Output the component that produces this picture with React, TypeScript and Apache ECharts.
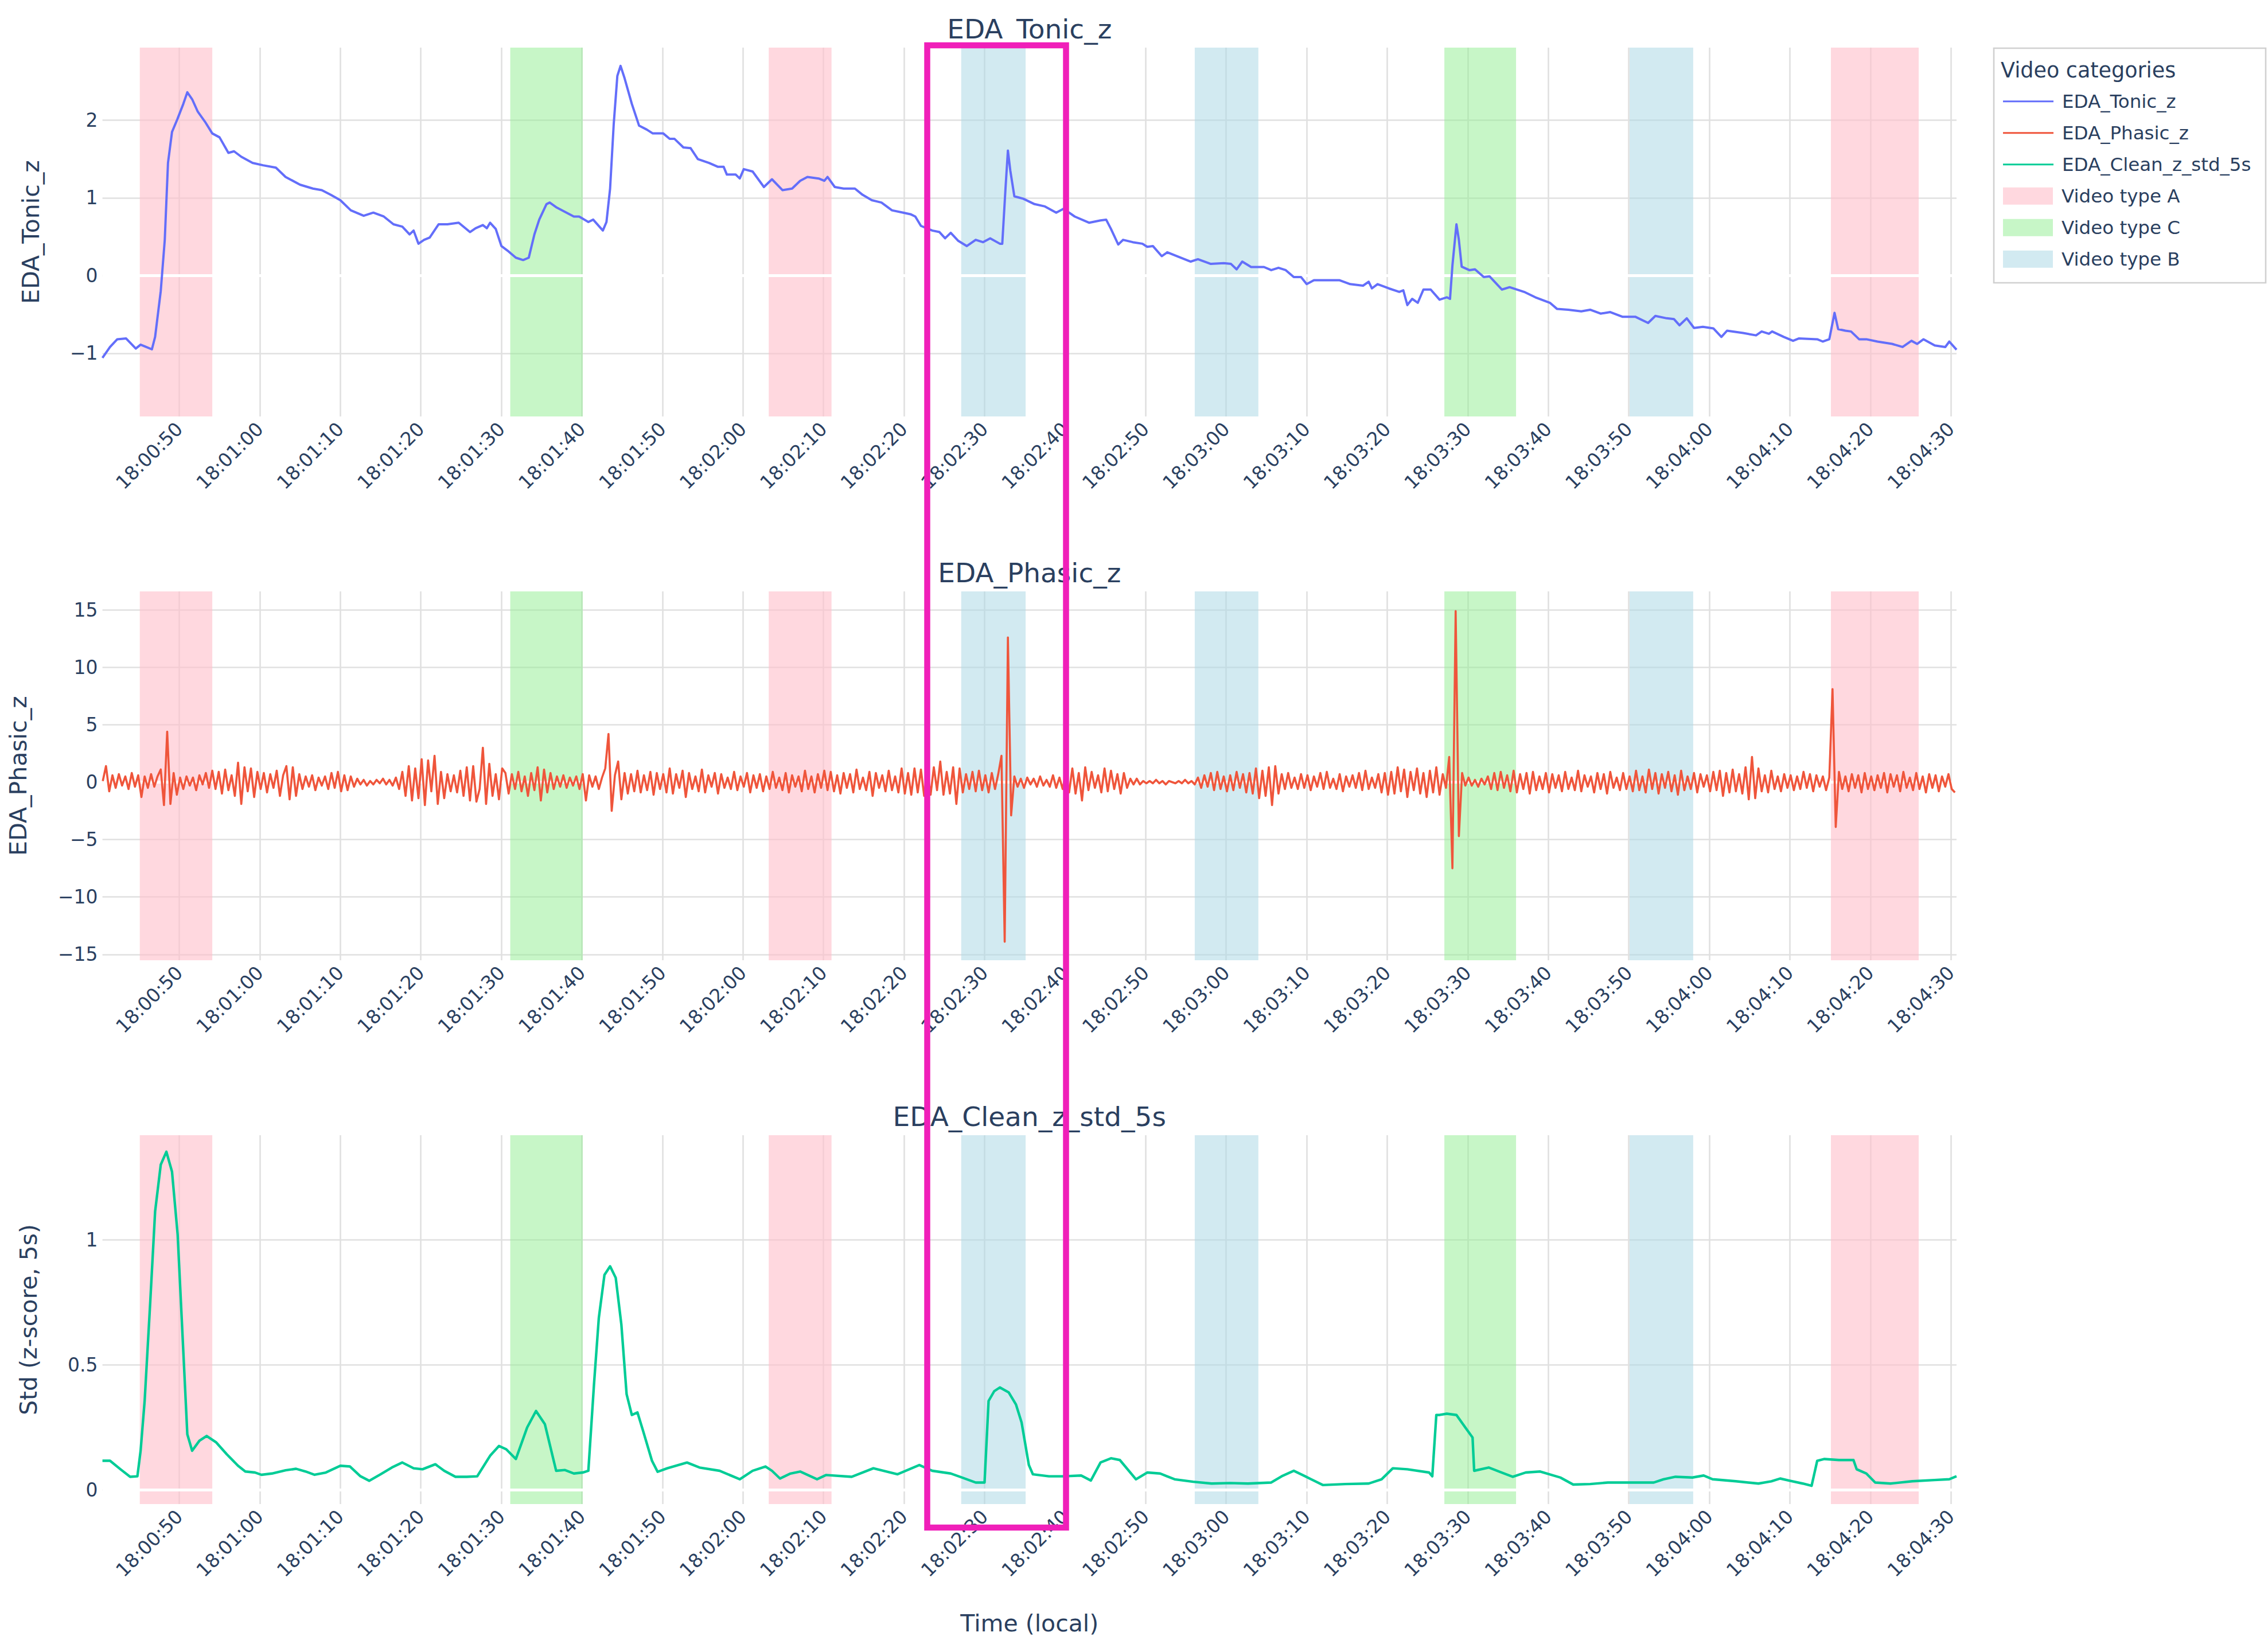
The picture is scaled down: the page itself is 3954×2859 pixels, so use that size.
import React, { useEffect, useRef } from 'react';
import * as echarts from 'echarts';

// ---------- data (seconds after 18:00:00) ----------
const X_MIN = 40.46;
const X_MAX = 270.7;

const TONIC_Z: [number, number][] = [
  [40.46,-1.06],[41.4,-0.92],[42.3,-0.82],[43.4,-0.81],[44.6,-0.94],[45.2,-0.89],[45.9,-0.92],[46.6,-0.95],[47.0,-0.79],[47.7,-0.20],
  [48.2,0.46],[48.6,1.45],[49.1,1.85],[49.75,2.01],[50.5,2.21],[51.0,2.36],[51.6,2.27],[52.3,2.11],[53.2,1.98],[54.1,1.83],
  [55.0,1.78],[56.1,1.58],[56.8,1.60],[57.7,1.53],[59.1,1.45],[60.4,1.42],[62.0,1.39],[63.2,1.27],[65.0,1.17],[66.6,1.12],
  [67.7,1.10],[68.8,1.04],[70.0,0.97],[71.3,0.84],[72.9,0.77],[74.1,0.81],[75.4,0.76],[76.6,0.66],[77.7,0.63],[78.6,0.53],
  [79.1,0.58],[79.7,0.41],[80.4,0.46],[81.1,0.49],[82.2,0.66],[83.3,0.66],[84.7,0.68],[86.1,0.56],[86.8,0.61],[87.7,0.65],
  [88.2,0.61],[88.6,0.68],[89.3,0.60],[90.0,0.38],[90.9,0.31],[91.8,0.23],[92.7,0.20],[93.4,0.23],[94.1,0.53],[94.7,0.72],
  [95.6,0.92],[96.0,0.94],[96.8,0.88],[99.0,0.76],[99.65,0.76],[100.8,0.69],[101.4,0.72],[102.6,0.58],[103.05,0.69],[103.5,1.12],
  [103.95,1.95],[104.4,2.57],[104.8,2.70],[105.3,2.54],[106.2,2.21],[107.1,1.93],[108.05,1.88],[108.8,1.83],[110.1,1.83],[110.9,1.76],
  [111.5,1.76],[112.6,1.65],[113.5,1.64],[114.4,1.50],[115.8,1.45],[116.9,1.40],[117.6,1.40],[118.0,1.30],[119.1,1.30],[119.6,1.25],
  [120.1,1.37],[121.2,1.34],[122.6,1.14],[123.6,1.24],[124.9,1.10],[126.1,1.12],[127.1,1.22],[128.0,1.27],[129.4,1.25],[130.1,1.22],
  [130.5,1.27],[131.4,1.14],[132.5,1.12],[133.9,1.12],[134.85,1.04],[136.0,0.97],[137.2,0.94],[138.5,0.84],[139.9,0.81],[140.8,0.79],
  [141.4,0.76],[142.1,0.64],[143.5,0.58],[144.4,0.56],[145.1,0.48],[145.8,0.55],[146.7,0.45],[147.8,0.38],[148.9,0.46],[149.8,0.43],
  [150.7,0.48],[151.9,0.41],[152.2,0.41],[152.6,1.12],[152.9,1.61],[153.2,1.35],[153.7,1.02],[154.8,0.99],[156.2,0.92],[157.5,0.89],
  [158.9,0.81],[159.8,0.86],[161.2,0.76],[163.0,0.68],[164.4,0.71],[165.1,0.72],[165.7,0.60],[166.6,0.40],[167.2,0.46],[168.4,0.43],
  [169.6,0.41],[170.2,0.37],[170.9,0.38],[172.0,0.25],[172.7,0.30],[173.9,0.25],[175.6,0.18],[176.5,0.21],[178.1,0.15],[179.7,0.16],
  [180.6,0.15],[181.3,0.08],[182.0,0.18],[183.1,0.11],[184.7,0.11],[185.6,0.07],[186.5,0.10],[187.4,0.07],[188.4,-0.02],[189.3,-0.02],
  [190.0,-0.11],[190.9,-0.06],[192.5,-0.06],[194.1,-0.06],[195.4,-0.11],[197.0,-0.13],[197.7,-0.08],[198.1,-0.165],[198.8,-0.11],[200.2,-0.165],
  [201.5,-0.21],[202.0,-0.19],[202.5,-0.38],[203.1,-0.30],[203.8,-0.35],[204.5,-0.18],[205.4,-0.18],[206.5,-0.31],[207.4,-0.28],[207.8,-0.30],
  [208.1,0.13],[208.6,0.66],[208.9,0.46],[209.25,0.115],[210.2,0.07],[210.9,0.08],[212.0,-0.02],[212.7,-0.01],[214.25,-0.18],[215.2,-0.15],
  [217.0,-0.21],[218.4,-0.28],[220.2,-0.35],[221.1,-0.43],[222.5,-0.44],[224.1,-0.46],[225.2,-0.44],[226.5,-0.49],[227.7,-0.47],[229.2,-0.53],
  [230.8,-0.53],[232.4,-0.61],[233.3,-0.52],[234.7,-0.55],[235.6,-0.56],[236.3,-0.64],[237.2,-0.55],[238.1,-0.675],[239.2,-0.66],[240.5,-0.68],
  [241.5,-0.79],[242.2,-0.71],[244.2,-0.74],[245.8,-0.77],[246.5,-0.72],[247.4,-0.75],[247.8,-0.72],[249.25,-0.79],[250.4,-0.84],[251.1,-0.81],
  [253.4,-0.82],[254.1,-0.85],[254.9,-0.82],[255.55,-0.48],[256.0,-0.69],[256.9,-0.71],[257.6,-0.72],[258.6,-0.82],[259.5,-0.82],[260.9,-0.85],
  [262.7,-0.88],[264.0,-0.92],[265.1,-0.84],[265.8,-0.88],[266.6,-0.82],[268.0,-0.90],[269.3,-0.92],[269.8,-0.85],[270.7,-0.955],
];

// Phasic: 10-second segments sampled every 0.4 s, each starting at its own time
const PHASIC_STEP = 0.4;
const PHASIC_SEGMENTS: { start: number; values: number[] }[] = [
  { start: 40.5, values: [0.1,1.4,-0.8,0.6,-0.5, 0.7,-0.3,0.5,-0.6,0.8, -0.4,0.6,-1.3,0.5,-0.5, 0.7,-0.4,0.5,1.1,-2.0, 4.4,-1.9,0.8,-1.1,0.4] },
  { start: 50.5, values: [-0.6,0.5,-0.3,0.4,-0.7, 0.6,-0.2,0.8,-0.5,1.0, -0.6,0.9,-1.0,1.1,-0.7, 0.6,-1.2,1.7,-1.9,1.3, -0.8,1.2,-1.3,0.9,-0.6] },
  { start: 60.5, values: [0.8,-0.9,0.7,-0.5,1.0, -1.2,0.6,1.4,-1.5,1.3, -1.2,0.7,-0.6,0.5,-0.4, 0.6,-0.7,0.4,-0.3,0.5, -0.6,0.8,-0.5,0.9,-0.8] },
  { start: 70.5, values: [0.6,-0.7,0.5,-0.4,0.3, -0.2,0.2,-0.3,0.1,-0.2, 0.2,-0.1,0.3,-0.2,0.2, -0.3,0.4,-0.6,0.9,-1.2, 1.4,-1.6,1.2,-1.4,2.0] },
  { start: 80.5, values: [-2.0,1.9,-0.8,2.3,-1.9, 0.9,-1.4,0.7,-0.8,0.6, -0.9,1.0,-1.2,1.3,-1.6, 1.4,-1.7,-0.6,3.0,-1.9, 1.6,-1.2,0.7,-1.5,1.2] },
  { start: 90.5, values: [0.8,-1.0,0.7,-0.6,0.9, -0.8,0.5,-1.2,0.8,-0.7, 1.3,-1.6,1.1,-0.9,0.8, -0.6,0.5,-0.4,0.6,-0.5, 0.4,-0.3,0.5,-0.6,0.7] },
  { start: 100.5, values: [-1.6,0.6,-0.4,0.5,-0.6, 0.4,1.2,4.2,-2.5,0.6, 1.8,-1.5,0.8,-1.0,0.7, -0.8,1.0,-0.9,0.6,-0.7, 0.9,-1.1,0.8,-0.6,0.7] },
  { start: 110.5, values: [-0.9,1.2,-1.0,0.7,-0.5, 1.0,-1.3,0.8,-0.6,0.5, -0.8,1.1,-0.9,0.6,-0.4, 0.8,-1.0,0.7,-0.5,0.4, -0.6,0.9,-0.7,0.5,-0.4] },
  { start: 120.5, values: [0.8,-0.9,0.6,-0.5,0.7, -0.8,0.5,-0.6,0.9,-0.5, 0.4,-0.7,0.8,-0.9,0.6, -0.4,0.5,-0.8,1.0,-0.6, 0.5,-0.9,0.7,-0.5,1.0] },
  { start: 130.5, values: [-0.7,0.9,-0.8,0.6,-1.0, 0.8,-0.5,0.7,-0.9,1.1, -0.6,0.4,-0.7,0.9,-1.2, 0.8,-0.5,0.6,-0.8,1.0, -0.7,0.5,-0.9,1.2,-1.0] },
  { start: 140.5, values: [0.8,-1.1,1.2,-0.9,1.1, -1.2,0.9,-1.1,1.3,-0.7, 1.8,-1.1,0.9,-1.0,1.3, -1.9,1.2,-0.9,0.7,-0.6, 0.9,-0.8,1.0,-0.7,0.6] },
  { start: 150.5, values: [-0.9,0.8,-0.6,0.7,2.3, -13.9,12.6,-2.9,0.5,-0.4, 0.3,-0.5,0.4,-0.2,0.3, -0.4,0.5,-0.3,0.2,-0.4, 0.6,-0.5,0.4,-0.6,0.8] },
  { start: 160.5, values: [-0.9,1.2,-1.0,0.8,-1.6, 1.3,-0.7,0.9,-0.5,0.6, -0.9,1.2,-0.8,1.0,-0.6, 0.7,-1.0,0.8,-0.5,0.3, -0.2,0.3,-0.2,0.1,-0.1] },
  { start: 170.5, values: [0.1,-0.1,0.2,-0.1,0.1, -0.2,0.1,0.0,-0.1,0.1, -0.1,0.2,-0.1,0.1,-0.2, 0.4,-0.5,0.6,-0.4,0.8, -0.7,0.9,-0.6,0.5,-0.8] },
  { start: 180.5, values: [0.6,-0.7,0.9,-0.5,0.7, -0.9,0.8,-1.0,1.2,-1.4, 1.0,-1.2,1.3,-2.0,1.4, -1.0,0.7,-0.6,0.8,-0.5, 0.4,-0.6,0.7,-0.5,0.6] },
  { start: 190.5, values: [-0.7,0.5,-0.4,0.8,-0.6, 0.9,-0.5,0.3,-0.6,0.7, -0.8,0.5,-0.4,0.6,-0.5, 0.8,-0.7,1.0,-0.6,0.4, -0.5,0.7,-0.9,0.8,-1.1] },
  { start: 200.5, values: [0.9,-1.0,1.3,-0.8,1.1, -1.3,0.9,-0.7,1.2,-1.0, 0.8,-1.3,1.0,-0.9,1.3, -1.1,0.7,-0.5,2.2,-7.5, 14.9,-4.7,0.8,-0.3,0.4] },
  { start: 210.5, values: [-0.3,0.2,-0.4,0.3,-0.2, 0.5,-0.6,0.8,-0.7,0.9, -0.5,0.6,-0.8,1.0,-0.9, 0.7,-0.6,0.8,-1.0,0.9, -0.7,0.5,-0.6,0.8,-0.9] },
  { start: 220.5, values: [0.7,-0.5,0.6,-0.8,0.9, -0.6,0.4,-0.7,1.0,-0.8, 0.6,-0.4,0.5,-0.9,0.8, -0.6,0.7,-1.0,0.9,-0.5, 0.4,-0.7,0.8,-0.6,0.5] },
  { start: 230.5, values: [-0.8,1.0,-0.7,0.5,-0.9, 1.1,-0.6,0.8,-1.0,0.7, -0.5,0.9,-0.8,0.6,-1.1, 1.0,-0.7,0.5,-0.6,0.8, -0.9,0.7,-0.4,0.6,-0.8] },
  { start: 240.5, values: [0.9,-0.7,1.0,-1.2,0.8, -0.9,1.1,-0.8,0.7,-1.0, 1.3,-1.5,2.2,-1.4,1.2, -0.8,0.6,-0.9,1.0,-0.6, 0.5,-0.8,0.7,-0.5,0.6] },
  { start: 250.5, values: [-0.7,0.5,-0.6,0.9,-0.5, 0.7,-0.8,0.6,-0.4,0.5, -0.7,0.4,8.1,-3.9,0.9, -0.6,0.5,-0.8,0.7,-0.5, 0.6,-0.9,0.8,-0.6,0.5] },
  { start: 260.5, values: [-0.7,0.6,-0.5,0.8,-0.9, 0.7,-0.4,0.6,-0.8,0.9, -0.5,0.4,-0.7,0.8,-0.6, 0.5,-0.9,0.7,-0.5,0.6, -0.8,0.5,-0.4,0.7,-0.6, -0.9] },
];

const CLEAN_STD: [number, number][] = [
  [40.46,0.117],[41.4,0.117],[42.7,0.083],[43.9,0.053],[44.8,0.055],[45.2,0.157],[45.7,0.356],[46.4,0.754],[47.0,1.113],[47.7,1.30],
  [48.4,1.352],[49.1,1.272],[49.8,1.02],[50.5,0.555],[51.0,0.223],[51.6,0.157],[52.5,0.197],[53.4,0.216],[54.6,0.19],[55.9,0.143],
  [57.3,0.097],[58.2,0.074],[59.4,0.07],[60.2,0.061],[61.5,0.066],[63.2,0.079],[64.5,0.085],[65.7,0.074],[66.8,0.061],[68.2,0.07],
  [70.0,0.097],[71.2,0.094],[72.5,0.055],[73.6,0.037],[75.0,0.063],[76.4,0.09],[77.7,0.11],[79.1,0.087],[80.2,0.083],[81.8,0.103],
  [82.9,0.077],[84.3,0.053],[85.7,0.053],[87.0,0.055],[88.6,0.137],[89.7,0.176],[90.6,0.163],[91.8,0.124],[93.2,0.25],[94.3,0.316],
  [95.4,0.263],[96.8,0.077],[97.9,0.08],[99.0,0.066],[100.1,0.07],[100.8,0.077],[101.5,0.422],[102.1,0.688],[102.8,0.86],[103.5,0.894],
  [104.2,0.848],[104.9,0.661],[105.55,0.383],[106.2,0.30],[106.9,0.31],[107.6,0.236],[108.7,0.117],[109.4,0.073],[110.6,0.087],[113.05,0.11],
  [114.6,0.09],[117.1,0.077],[119.6,0.043],[121.2,0.077],[122.8,0.094],[123.6,0.077],[124.6,0.046],[125.9,0.066],[127.1,0.074],[129.2,0.043],
  [130.3,0.06],[133.5,0.053],[136.2,0.087],[139.2,0.063],[141.9,0.10],[143.5,0.077],[145.8,0.066],[147.2,0.05],[148.9,0.03],[150.0,0.03],
  [150.5,0.356],[151.2,0.395],[151.9,0.41],[153.0,0.39],[153.9,0.342],[154.6,0.27],[155.5,0.10],[156.0,0.063],[158.0,0.055],[159.8,0.055],
  [162.0,0.058],[163.2,0.038],[164.4,0.11],[165.7,0.127],[166.8,0.12],[168.8,0.043],[170.2,0.07],[171.8,0.066],[173.6,0.043],[175.9,0.033],
  [178.2,0.026],[180.5,0.028],[182.7,0.026],[185.6,0.03],[186.9,0.055],[188.4,0.077],[189.8,0.055],[192.0,0.02],[194.8,0.024],[197.7,0.026],
  [199.3,0.043],[200.7,0.087],[202.5,0.083],[205.2,0.07],[205.6,0.055],[206.1,0.30],[206.5,0.30],[207.4,0.305],[208.6,0.30],[209.7,0.25],
  [210.6,0.21],[210.8,0.077],[212.6,0.09],[214.2,0.07],[215.6,0.053],[217.2,0.07],[219.0,0.074],[221.5,0.05],[223.1,0.022],[225.2,0.024],
  [227.4,0.03],[230.1,0.03],[233.1,0.03],[234.3,0.043],[235.8,0.053],[237.9,0.05],[239.3,0.058],[240.4,0.043],[243.3,0.035],[246.1,0.026],
  [247.7,0.035],[248.8,0.046],[250.0,0.037],[251.6,0.026],[252.7,0.017],[253.4,0.117],[254.3,0.124],[256.1,0.12],[257.9,0.12],[258.3,0.083],
  [259.5,0.066],[260.6,0.03],[262.5,0.026],[265.2,0.035],[267.95,0.04],[269.8,0.043],[270.7,0.055],
];

const VIDEO_A: [number, number][] = [[45.1, 54.1], [123.2, 131.0], [255.1, 266.0]];
const VIDEO_C: [number, number][] = [[91.1, 100.1], [207.1, 216.0]];
const VIDEO_B: [number, number][] = [[147.1, 155.1], [176.1, 184.0], [230.1, 238.0]];

const PANEL_TITLES = ['EDA_Tonic_z', 'EDA_Phasic_z', 'EDA_Clean_z_std_5s'];
const Y_TITLES = ['EDA_Tonic_z', 'EDA_Phasic_z', 'Std (z-score, 5s)'];
const Y_RANGES: [number, number][] = [[-1.814, 2.935], [-15.51, 16.61], [-0.056, 1.418]];
const Y_STEPS = [1, 5, 0.5];
const X_STEP = 10;
const LINE_NAMES = ['EDA_Tonic_z', 'EDA_Phasic_z', 'EDA_Clean_z_std_5s'];
const BAND_NAMES = ['Video type A', 'Video type C', 'Video type B'];

// ---------- styling ----------
const FONT = '"DejaVu Sans", Verdana, sans-serif';
const INK = '#2a3f5f';
const GRID_COLOR = '#e0e0e0';
const LINE_COLORS = ['#636EFA', '#EF553B', '#00CC96'];
const LINE_WIDTHS = [4, 3.6, 4.4];
const BAND_COLORS = ['rgba(255,192,203,0.62)', 'rgba(144,238,144,0.5)', 'rgba(173,216,230,0.55)'];
const GRID_LEFT = 178.6;
const GRID_WIDTH = 3232.4;
const GRID_TOPS = [83, 1031, 1979];
const GRID_HEIGHT = 643;
const NAME_GAPS = [104, 126, 108];
const HIGHLIGHT = { x: 1616.5, y: 79, width: 242, height: 2584, color: '#f01fb9', lineWidth: 10.5 };

function pad2(n: number) { return String(n).padStart(2, '0'); }
function fmtTime(v: number): string {
  if (Math.abs(v / X_STEP - Math.round(v / X_STEP)) > 1e-6) return '';
  const s = Math.round(v);
  const m = Math.floor(s / 60);
  return `18:${pad2(m)}:${pad2(s - m * 60)}`;
}
function makeYFmt(step: number) {
  return (v: number) => {
    if (Math.abs(v / step - Math.round(v / step)) > 1e-6) return '';
    const r = Math.round(v * 1000) / 1000;
    return String(r).replace('-', '\u2212');
  };
}

function phasicData(): [number, number][] {
  const out: [number, number][] = [];
  PHASIC_SEGMENTS.forEach((seg) => {
    seg.values.forEach((v, j) => out.push([Math.round((seg.start + j * PHASIC_STEP) * 100) / 100, v]));
  });
  return out;
}

function buildOption() {
  const grids = GRID_TOPS.map((top) => ({
    left: GRID_LEFT, top, width: GRID_WIDTH, height: GRID_HEIGHT, containLabel: false, outerBoundsMode: 'none',
  }));
  const xAxes = [0, 1, 2].map((i) => ({
    type: 'value', gridIndex: i, min: X_MIN, max: X_MAX, minInterval: X_STEP, maxInterval: X_STEP,
    axisLine: { show: false }, axisTick: { show: false },
    splitLine: { show: true, showMinLine: false, showMaxLine: false, lineStyle: { color: GRID_COLOR, width: 2.6 } },
    axisLabel: { rotate: 45, margin: 16, fontSize: 33, color: INK, fontFamily: FONT, formatter: fmtTime },
    name: i === 2 ? 'Time (local)' : '', nameLocation: 'middle', nameGap: 187,
    nameTextStyle: { fontSize: 41, color: INK, fontFamily: FONT }, nameMoveOverlap: false,
  }));
  const yAxes = [0, 1, 2].map((i) => ({
    type: 'value', gridIndex: i, min: Y_RANGES[i][0], max: Y_RANGES[i][1],
    minInterval: Y_STEPS[i], maxInterval: Y_STEPS[i],
    axisLine: { show: false }, axisTick: { show: false },
    splitLine: { show: true, showMinLine: false, showMaxLine: false, lineStyle: { color: GRID_COLOR, width: 2.6 } },
    axisLabel: { margin: 8, fontSize: 33, color: INK, fontFamily: FONT, formatter: makeYFmt(Y_STEPS[i]) },
    name: Y_TITLES[i], nameLocation: 'middle', nameGap: NAME_GAPS[i],
    nameTextStyle: { fontSize: 41, color: INK, fontFamily: FONT }, nameMoveOverlap: false,
  }));

  const bandSpans = [VIDEO_A, VIDEO_C, VIDEO_B];
  const series: any[] = [];
  for (let i = 0; i < 3; i++) {
    BAND_NAMES.forEach((name, b) => {
      series.push({
        type: 'line', name, xAxisIndex: i, yAxisIndex: i,
        data: [[X_MIN, 0], [X_MAX, 0]], symbol: 'none', silent: true,
        color: BAND_COLORS[b], itemStyle: { color: BAND_COLORS[b] },
        lineStyle: { opacity: 0, width: 0 }, z: 1,
        markArea: {
          silent: true, z: 1,
          itemStyle: { color: BAND_COLORS[b], borderWidth: 0 },
          label: { show: false },
          data: bandSpans[b].map(([s, e]) => [{ xAxis: s }, { xAxis: e }]),
        },
      });
    });
    series.push({
      type: 'line', name: 'zero-line', xAxisIndex: i, yAxisIndex: i,
      data: [[X_MIN, 0], [X_MAX, 0]], symbol: 'none', silent: true,
      lineStyle: { color: '#ffffff', width: 5 }, z: 2,
    });
  }
  const lineData = [TONIC_Z, phasicData(), CLEAN_STD];
  lineData.forEach((d, i) => {
    series.push({
      type: 'line', name: LINE_NAMES[i], xAxisIndex: i, yAxisIndex: i, data: d,
      symbol: 'none', showSymbol: false, color: LINE_COLORS[i],
      itemStyle: { color: LINE_COLORS[i] },
      lineStyle: { color: LINE_COLORS[i], width: LINE_WIDTHS[i], join: 'round' }, z: 3,
    });
  });

  const legendText = { fontSize: 32.5, lineHeight: 40, color: INK, fontFamily: FONT, padding: [0, 0, 0, 10] };

  return {
    animation: false,
    backgroundColor: '#ffffff',
    grid: grids,
    xAxis: xAxes,
    yAxis: yAxes,
    legend: [
      {
        data: LINE_NAMES, orient: 'vertical', left: 3492, top: 156.7, padding: 0,
        itemWidth: 88, itemHeight: 3, itemGap: 15, icon: 'rect', selectedMode: false,
        textStyle: legendText,
      },
      {
        data: BAND_NAMES, orient: 'vertical', left: 3492, top: 321.7, padding: 0,
        itemWidth: 87, itemHeight: 30, itemGap: 15, icon: 'rect', selectedMode: false,
        textStyle: legendText,
      },
    ],
    graphic: [
      {
        type: 'rect', z: -10, silent: true,
        shape: { x: 3476, y: 84, width: 474, height: 409 },
        style: { fill: '#ffffff', stroke: '#d0d0d0', lineWidth: 2.6 },
      },
      {
        type: 'text', silent: true, x: 3488, y: 122,
        style: { text: 'Video categories', fontSize: 36.5, fontFamily: FONT, fill: INK, align: 'left', verticalAlign: 'middle' },
      },
      ...PANEL_TITLES.map((t, i) => ({
        type: 'text', silent: true, x: GRID_LEFT + GRID_WIDTH / 2, y: GRID_TOPS[i] - 33,
        style: { text: t, fontSize: 47, fontFamily: FONT, fill: INK, align: 'center', verticalAlign: 'middle' },
      })),
      {
        type: 'rect', z: 100, silent: true,
        shape: { x: HIGHLIGHT.x, y: HIGHLIGHT.y, width: HIGHLIGHT.width, height: HIGHLIGHT.height },
        style: { fill: 'none', stroke: HIGHLIGHT.color, lineWidth: HIGHLIGHT.lineWidth },
      },
    ],
    series,
  };
}

export default function App() {
  const ref = useRef<HTMLDivElement>(null);
  useEffect(() => {
    if (!ref.current) return;
    const chart = echarts.init(ref.current, null, { renderer: 'svg' });
    chart.setOption(buildOption() as any);
    return () => chart.dispose();
  }, []);
  return (
    <div
      ref={ref}
      style={{ position: 'absolute', left: 0, top: 0, width: 3954, height: 2859, background: '#ffffff' }}
    />
  );
}
